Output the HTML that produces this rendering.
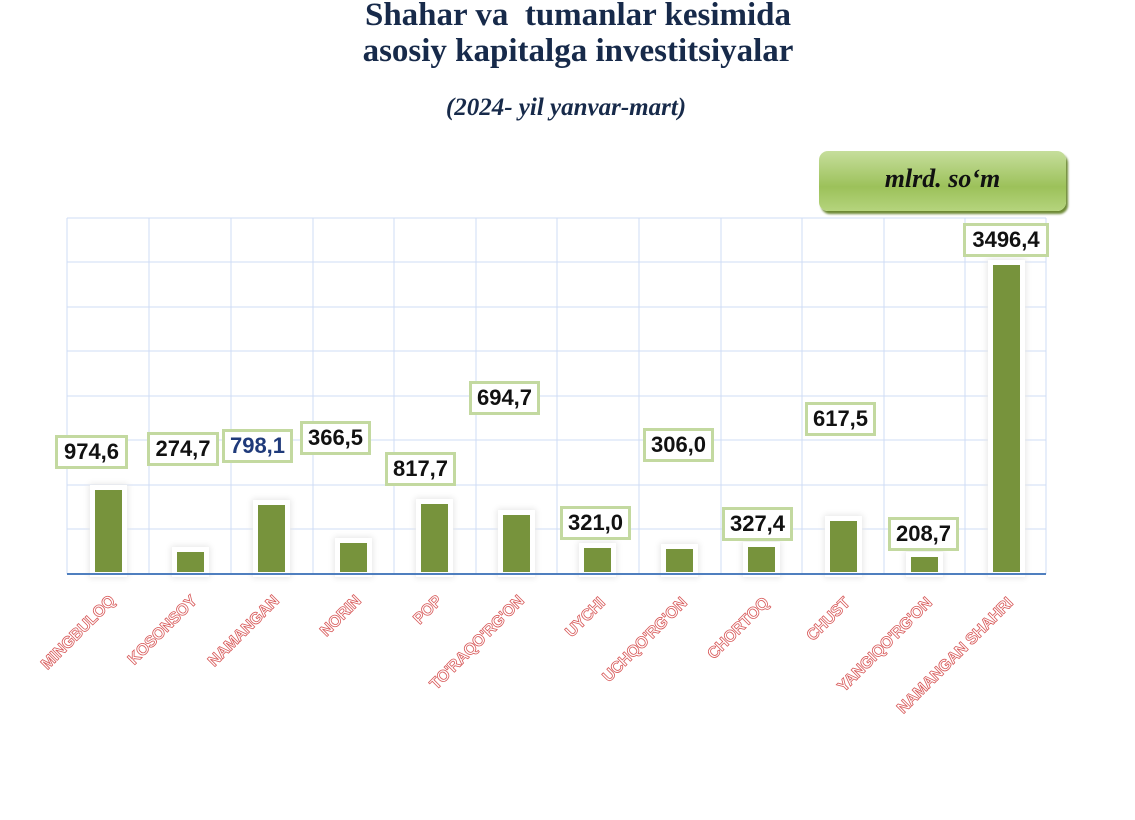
<!DOCTYPE html>
<html><head><meta charset="utf-8"><style>
body{margin:0;background:#fff;width:1135px;height:749px;overflow:hidden;position:relative;font-family:"Liberation Sans",sans-serif}
.t{position:absolute;white-space:nowrap;text-align:center;font-family:"Liberation Serif",serif;font-weight:bold;color:#172a4a}
.lb{position:absolute;height:28px;border:3px solid #c3d9a0;background:#fff;font-weight:bold;font-size:22px;line-height:28px;text-align:center;color:#111}
.bar{position:absolute;background:#77933c;box-shadow:0 0 0 5px #fff,0 0 6px 6px #e6e6e6}
.xl{position:absolute;font-size:16px;font-weight:bold;white-space:nowrap;color:#fff;-webkit-text-stroke:0.8px #d85a5a;transform-origin:100% 50%;transform:rotate(-45deg);text-align:right;width:300px;height:18px;line-height:18px;letter-spacing:-0.3px}
</style></head><body>
<div class="t" style="top:-5px;left:278px;width:600px;font-size:33px;line-height:40px">Shahar va&nbsp; tumanlar kesimida</div>
<div class="t" style="top:31px;left:278px;width:600px;font-size:33px;line-height:40px">asosiy kapitalga investitsiyalar</div>
<div class="t" style="top:93px;left:266px;width:600px;font-size:25px;line-height:30px;font-style:italic">(2024- yil yanvar-mart)</div>
<div style="position:absolute;left:819px;top:151px;width:247px;height:60px;border-radius:9px;background:linear-gradient(#c6de9c,#9cc15a 60%,#b5d47d);box-shadow:2px 3px 2px #6d8a34;font-family:'Liberation Serif',serif;font-style:italic;font-weight:bold;font-size:26px;line-height:56px;text-align:center;color:#111">mlrd. so‘m</div>
<svg style="position:absolute;left:0;top:0" width="1135" height="749">
<g stroke="#cfdcf5" stroke-width="1">
<line x1="67" y1="218" x2="1046" y2="218"/><line x1="67" y1="262" x2="1046" y2="262"/><line x1="67" y1="307" x2="1046" y2="307"/><line x1="67" y1="351" x2="1046" y2="351"/><line x1="67" y1="396" x2="1046" y2="396"/><line x1="67" y1="440" x2="1046" y2="440"/><line x1="67" y1="485" x2="1046" y2="485"/><line x1="67" y1="529" x2="1046" y2="529"/>
<line x1="67" y1="218" x2="67" y2="574"/><line x1="149" y1="218" x2="149" y2="574"/><line x1="231" y1="218" x2="231" y2="574"/><line x1="313" y1="218" x2="313" y2="574"/><line x1="394" y1="218" x2="394" y2="574"/><line x1="476" y1="218" x2="476" y2="574"/><line x1="557" y1="218" x2="557" y2="574"/><line x1="639" y1="218" x2="639" y2="574"/><line x1="721" y1="218" x2="721" y2="574"/><line x1="802" y1="218" x2="802" y2="574"/><line x1="884" y1="218" x2="884" y2="574"/><line x1="965" y1="218" x2="965" y2="574"/><line x1="1046" y1="218" x2="1046" y2="574"/>
</g></svg>
<div class="bar" style="left:95px;top:490px;width:27px;height:82px"></div>
<div class="bar" style="left:177px;top:552px;width:27px;height:20px"></div>
<div class="bar" style="left:258px;top:505px;width:27px;height:67px"></div>
<div class="bar" style="left:340px;top:543px;width:27px;height:29px"></div>
<div class="bar" style="left:421px;top:504px;width:27px;height:68px"></div>
<div class="bar" style="left:503px;top:515px;width:27px;height:57px"></div>
<div class="bar" style="left:584px;top:548px;width:27px;height:24px"></div>
<div class="bar" style="left:666px;top:549px;width:27px;height:23px"></div>
<div class="bar" style="left:748px;top:547px;width:27px;height:25px"></div>
<div class="bar" style="left:830px;top:521px;width:27px;height:51px"></div>
<div class="bar" style="left:911px;top:557px;width:27px;height:15px"></div>
<div class="bar" style="left:993px;top:265px;width:27px;height:307px"></div>
<div style="position:absolute;left:67px;top:573px;width:979px;height:2px;background:#4f7fbf"></div>
<div class="lb" style="left:55px;top:435px;width:67px">974,6</div>
<div class="lb" style="left:147px;top:432px;width:66px">274,7</div>
<div class="lb" style="left:222px;top:429px;width:65px;color:#1f3a7a">798,1</div>
<div class="lb" style="left:300px;top:421px;width:65px">366,5</div>
<div class="lb" style="left:385px;top:452px;width:65px">817,7</div>
<div class="lb" style="left:469px;top:381px;width:65px">694,7</div>
<div class="lb" style="left:560px;top:506px;width:65px">321,0</div>
<div class="lb" style="left:643px;top:428px;width:65px">306,0</div>
<div class="lb" style="left:722px;top:507px;width:65px">327,4</div>
<div class="lb" style="left:805px;top:402px;width:65px">617,5</div>
<div class="lb" style="left:888px;top:517px;width:65px">208,7</div>
<div class="lb" style="left:963px;top:223px;width:80px">3496,4</div>
<div class="xl" style="left:-187px;top:590px">MINGBULOQ</div>
<div class="xl" style="left:-105px;top:590px">KOSONSOY</div>
<div class="xl" style="left:-23px;top:590px">NAMANGAN</div>
<div class="xl" style="left:59px;top:590px">NORIN</div>
<div class="xl" style="left:140px;top:590px">POP</div>
<div class="xl" style="left:222px;top:590px">TO'RAQO'RG'ON</div>
<div class="xl" style="left:303px;top:592px">UYCHI</div>
<div class="xl" style="left:385px;top:592px">UCHQO'RG'ON</div>
<div class="xl" style="left:467px;top:592px">CHORTOQ</div>
<div class="xl" style="left:548px;top:592px">CHUST</div>
<div class="xl" style="left:630px;top:592px">YANGIQO'RG'ON</div>
<div class="xl" style="left:711px;top:592px">NAMANGAN SHAHRI</div>
</body></html>
